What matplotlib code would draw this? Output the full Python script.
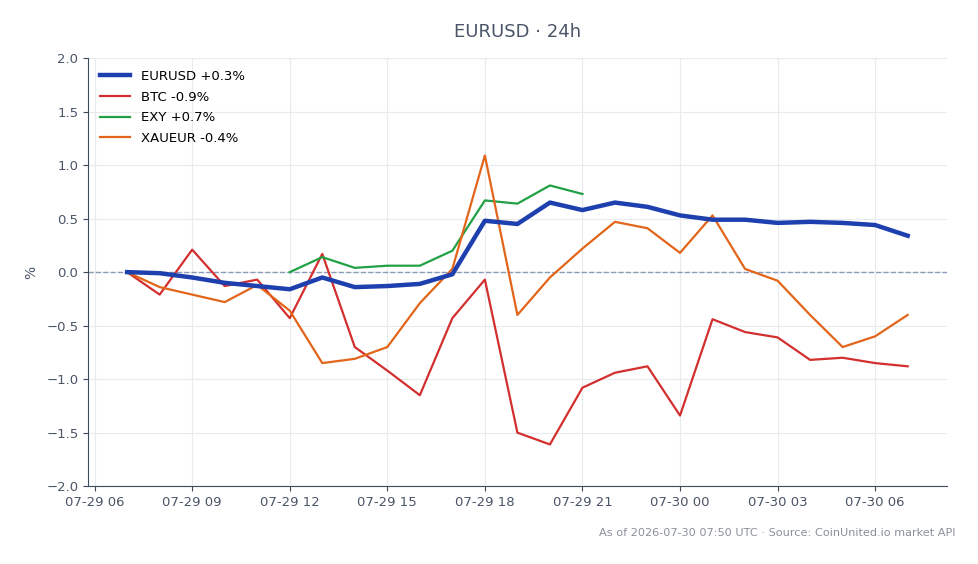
import pandas as pd
import matplotlib
matplotlib.use('Agg')
import matplotlib.pyplot as plt
import matplotlib.dates as mdates

hours = pd.date_range('2026-07-29 07:00', '2026-07-30 07:00', freq='h')

eurusd = [0.00, -0.01, -0.05, -0.10, -0.13, -0.16, -0.05, -0.14, -0.13, -0.11, -0.02, 0.48, 0.45,
          0.65, 0.58, 0.65, 0.61, 0.53, 0.49, 0.49, 0.46, 0.47, 0.46, 0.44, 0.34]
btc = [0.00, -0.21, 0.21, -0.13, -0.07, -0.43, 0.17, -0.70, -0.92, -1.15, -0.43, -0.07, -1.50,
       -1.61, -1.08, -0.94, -0.88, -1.34, -0.44, -0.56, -0.61, -0.82, -0.80, -0.85, -0.88]
exy_hours = hours[5:15]
exy = [0.00, 0.14, 0.04, 0.06, 0.06, 0.20, 0.67, 0.64, 0.81, 0.73]
xaueur = [0.00, -0.14, -0.21, -0.28, -0.12, -0.36, -0.85, -0.81, -0.70, -0.29, 0.03, 1.09, -0.40,
          -0.05, 0.22, 0.47, 0.41, 0.18, 0.53, 0.03, -0.08, -0.40, -0.70, -0.60, -0.40]

labels = ['EURUSD +0.3%', 'BTC -0.9%', 'EXY +0.7%', 'XAUEUR -0.4%']

txt = '#4a5568'
fig = plt.figure(figsize=(9.79, 5.64), dpi=100)
ax = fig.add_axes([0.09, 0.138, 0.877, 0.759])

ax.plot(hours, eurusd, color='#1e40af', lw=3.2, label=labels[0], zorder=5)
ax.plot(hours, btc, color='#d32f2f', lw=1.6, label=labels[1], zorder=3)
ax.plot(exy_hours, exy, color='#22a045', lw=1.6, label=labels[2], zorder=3)
ax.plot(hours, xaueur, color='#e2651a', lw=1.6, label=labels[3], zorder=4)
ax.axhline(0, color='#8a9bb5', lw=1, ls='--', zorder=2)

ax.set_ylim(-2, 2)
ax.xaxis.set_major_locator(mdates.HourLocator(byhour=[0, 3, 6, 9, 12, 15, 18, 21]))
ax.xaxis.set_major_formatter(mdates.DateFormatter('%m-%d %H'))
ax.grid(True, color='#e8eaee', lw=0.8)
ax.set_axisbelow(True)
for s in ['top', 'right']:
    ax.spines[s].set_visible(False)
for s in ['left', 'bottom']:
    ax.spines[s].set_color('#3d4a5c')
ax.tick_params(colors=txt, labelsize=9.5)
ax.tick_params(axis='both', color='#3d4a5c')
ax.set_ylabel('%', color=txt, fontsize=10, labelpad=6)
ax.set_title('EURUSD · 24h', color=txt, fontsize=13, pad=15)

leg = ax.legend(loc='upper left', frameon=False, fontsize=9.5, handlelength=2.3,
                handletextpad=0.8, labelspacing=0.58, borderaxespad=0.5)

fig.text(0.976, 0.055, 'As of 2026-07-30 07:50 UTC · Source: CoinUnited.io market API',
         ha='right', va='center', color='#8a909a', fontsize=8.15)

fig.savefig('out.png', dpi=100)
